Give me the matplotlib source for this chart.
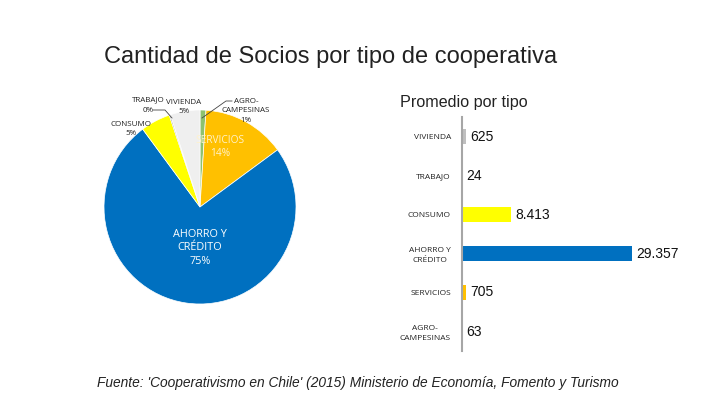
import matplotlib
matplotlib.use("Agg")
import matplotlib.pyplot as plt

# ---- data ----
pie_labels = ["AGRO-\nCAMPESINAS", "SERVICIOS", "AHORRO Y\nCRÉDITO", "CONSUMO", "TRABAJO", "VIVIENDA"]
pie_pct = [1, 14, 75, 5, 0.2, 5]
pie_pct_text = ["1%", "14%", "75%", "5%", "0%", "5%"]
pie_colors = ["#8DC26F", "#FFC000", "#0070C0", "#FFFF00", "#7F7F7F", "#EFEFEF"]

bar_cats = ["VIVIENDA", "TRABAJO", "CONSUMO", "AHORRO Y\nCRÉDITO", "SERVICIOS", "AGRO-\nCAMPESINAS"]
bar_vals = [625, 24, 8413, 29357, 705, 63]
bar_text = ["625", "24", "8.413", "29.357", "705", "63"]
bar_colors = ["#BFBFBF", "#7F7F7F", "#FFFF00", "#0070C0", "#FFC000", "#8DC26F"]

W, H = 720, 405
fig = plt.figure(figsize=(7.2, 4.05), dpi=100)
fig.patch.set_facecolor("white")

def px(l, t, w, h):
    return [l / W, 1 - (t + h) / H, w / W, h / H]

fig.text(104 / W, 1 - 57 / H, "Cantidad de Socios por tipo de cooperativa",
         fontsize=17, family="Liberation Sans", color="#222222", va="center", ha="left")

# ---- pie ----
cx, cy, rx, ry = 200, 207, 96, 97
axp = fig.add_axes(px(cx - rx, cy - ry, 2 * rx, 2 * ry))
axp.pie(pie_pct, colors=pie_colors, startangle=90, counterclock=False,
        wedgeprops=dict(edgecolor="white", linewidth=0.5))
axp.set_xlim(-1, 1)
axp.set_ylim(-1, 1)
axp.set_aspect("auto")
axp.axis("off")

lf = ["Open Sans", "DejaVu Sans"]
def ftxt(x, y, s, **kw):
    fig.text(x / W, 1 - y / H, s, ha="center", va="center", family=lf, **kw)

ftxt(200, 248, pie_labels[2] + "\n" + pie_pct_text[2], fontsize=7.8, color="white", linespacing=1.3)
ftxt(220, 147, pie_labels[1] + "\n" + pie_pct_text[1], fontsize=7.3, color="#FFF2CC", linespacing=1.3)
ftxt(148, 100, pie_labels[4], fontsize=5.8, color="#222222")
ftxt(148, 111, pie_pct_text[4], fontsize=5.8, color="#222222")
ftxt(184, 107, pie_labels[5] + "\n" + pie_pct_text[5], fontsize=5.8, color="#222222", linespacing=1.55)
ftxt(131, 129, pie_labels[3] + "\n" + pie_pct_text[3], fontsize=5.8, color="#222222", linespacing=1.55)
ftxt(246, 111, pie_labels[0] + "\n" + pie_pct_text[0], fontsize=5.8, color="#222222", linespacing=1.55)

# leader lines
fig.add_artist(plt.Line2D([153 / W, 165 / W, 172 / W], [1 - 110 / H, 1 - 110 / H, 1 - 118 / H],
                          color="#444444", lw=0.6))
fig.add_artist(plt.Line2D([232 / W, 226 / W, 202 / W], [1 - 101 / H, 1 - 101 / H, 1 - 118 / H],
                          color="#444444", lw=0.6))

# ---- bar chart ----
fig.text(400 / W, 1 - 103 / H, "Promedio por tipo", fontsize=11.6, family="Liberation Sans",
         color="#222222", va="center", ha="left")

axb = fig.add_axes(px(462, 117, 232, 234))
y = list(range(len(bar_cats)))
axb.barh(y, bar_vals, height=0.38, color=bar_colors)
axb.set_ylim(len(bar_cats) - 0.5, -0.5)
axb.set_xlim(0, 40000)
axb.set_yticks(y)
axb.set_yticklabels(bar_cats, fontsize=6, family=lf, color="#222222", ha="right",
                    linespacing=1.45, multialignment="center")
axb.tick_params(axis="y", length=0, pad=8)
axb.set_xticks([])
for s in ["top", "right", "bottom"]:
    axb.spines[s].set_visible(False)
axb.spines["left"].set_color("#A6A6A6")
axb.spines["left"].set_linewidth(1.5)
for yi, v, t in zip(y, bar_vals, bar_text):
    axb.annotate(t, (v, yi), xytext=(3, 0), textcoords="offset points", va="center", ha="left",
                 fontsize=10, family="Liberation Sans", color="#111111")

fig.text(97 / W, 1 - 383 / H,
         "Fuente: 'Cooperativismo en Chile' (2015) Ministerio de Economía, Fomento y Turismo",
         fontsize=9.9, family="Liberation Sans", style="italic", color="#222222", va="center", ha="left")

fig.savefig("out.png", dpi=100)
